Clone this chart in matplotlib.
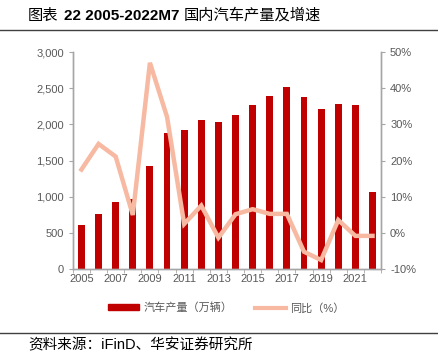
import numpy as np
import matplotlib
matplotlib.use('Agg')
import matplotlib.pyplot as plt
from matplotlib.lines import Line2D
from matplotlib.patches import Patch
from matplotlib.ticker import FuncFormatter

plt.rcParams['font.family'] = ['Liberation Sans', 'Noto Sans CJK SC', 'DejaVu Sans']

years = list(range(2005, 2023))
production = [605, 758, 920, 962, 1419, 1877, 1923, 2062, 2034, 2136,
              2275, 2390, 2520, 2386, 2210, 2288, 2265, 1067]
yoy = [17.5, 24.6, 21.1, 4.9, 47.1, 32.1, 2.4, 7.5, -1.4, 5.1,
       6.5, 5.2, 5.2, -5.3, -7.6, 3.5, -0.9, -0.9]
tick_labels = [str(y) if (y - 2005) % 2 == 0 else '' for y in years]

bar_color = '#C00000'
line_color = '#F7B9A1'
grey = '#595959'
spine_grey = '#A6A6A6'

fig = plt.figure(figsize=(4.39, 3.61), dpi=100)
ax = fig.add_axes([0.166, 0.2557, 0.702, 0.5993])
x = np.arange(len(years))
ax.bar(x, production, width=0.4, color=bar_color, zorder=2)
ax.set_xlim(-0.5, len(years) - 0.5)
ax.set_ylim(0, 3000)
ax.set_yticks(np.arange(0, 3001, 500))
ax.yaxis.set_major_formatter(FuncFormatter(lambda v, p: f'{int(v):,}'))
ax.set_xticks(x)
ax.set_xticklabels(tick_labels)
ax.set_xticks(np.arange(-0.5, len(years)), minor=True)
ax.tick_params(axis='x', which='major', length=0, labelsize=8, labelcolor=grey, pad=4)
ax.tick_params(axis='x', which='minor', length=3, color=spine_grey)
ax.tick_params(axis='y', length=3, color=spine_grey, labelsize=8, labelcolor=grey)

ax2 = ax.twinx()
ax2.plot(x, yoy, color=line_color, lw=3.2, solid_joinstyle='miter', zorder=3)
ax2.set_ylim(-10, 50)
ax2.set_yticks(np.arange(-10, 51, 10))
ax2.yaxis.set_major_formatter(FuncFormatter(lambda v, p: f'{int(v)}%'))
ax2.tick_params(axis='y', length=3, color=spine_grey, labelsize=8, labelcolor=grey)

for a in (ax, ax2):
    a.spines['top'].set_visible(False)
    for s in ('left', 'right', 'bottom'):
        a.spines[s].set_color(spine_grey)
        a.spines[s].set_linewidth(1)

handles = [Patch(color=bar_color), Line2D([0], [0], color=line_color, lw=3)]
fig.legend(handles, ['汽车产量（万辆）', '同比（%）'], loc='center',
           bbox_to_anchor=(0.516, 0.147), ncol=2, frameon=False, fontsize=8,
           labelcolor=grey, handlelength=2.8, handleheight=0.45, columnspacing=2.0,
           handletextpad=0.4)

# title: Chinese in regular weight, numbers in bold
t1 = fig.text(0.064, 0.957, '图表', fontsize=11, va='center', ha='left', color='black')
fig.canvas.draw()
r = fig.canvas.get_renderer()
bb = t1.get_window_extent(r)
t2 = fig.text((bb.x1 + 5) / fig.bbox.width, 0.957, '22 2005-2022M7', fontsize=11,
              fontweight='bold', va='center', ha='left', color='black')
bb2 = t2.get_window_extent(r)
fig.text((bb2.x1 + 5) / fig.bbox.width, 0.957, '国内汽车产量及增速', fontsize=11,
         va='center', ha='left', color='black')
fig.add_artist(Line2D([0, 0.995], [0.917, 0.917], color='#404040', lw=1))
fig.add_artist(Line2D([0, 0.995], [0.078, 0.078], color='#404040', lw=1))
fig.text(0.064, 0.043, '资料来源：iFinD、华安证券研究所', fontsize=10.5,
         va='center', ha='left', color='black')

fig.savefig('out.png', dpi=100)
